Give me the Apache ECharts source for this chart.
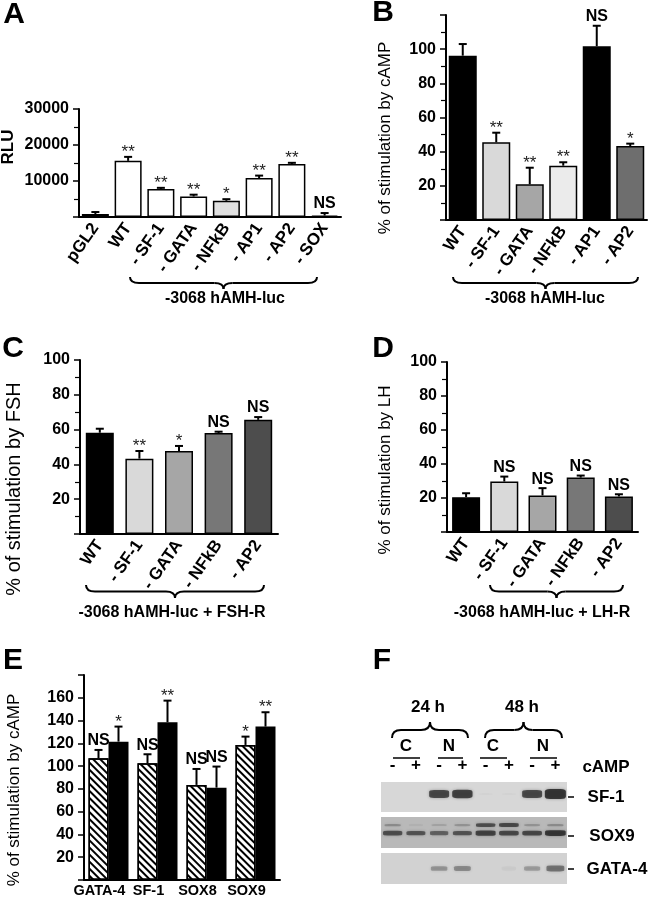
<!DOCTYPE html>
<html>
<head>
<meta charset="utf-8">
<script src="https://cdn.jsdelivr.net/npm/echarts@6/dist/echarts.min.js"></script>
<style>
html,body{margin:0;padding:0;background:#fff;}
#main{width:654px;height:900px;}
</style>
</head>
<body>
<div id="main"></div>
<script>
// A - RLU
var catA = ['pGL2', 'WT', '- SF-1', '- GATA', '- NFkB', '- AP1', '- AP2', '- SOX'];
var valA = [830, 15600, 7800, 5700, 4500, 10800, 14700, 400];
var errA = [550, 1100, 300, 500, 450, 700, 350, 700];
var sigA = ['', '**', '**', '**', '*', '**', '**', 'NS'];
// B - cAMP
var catB = ['WT', '- SF-1', '- GATA', '- NFkB', '- AP1', '- AP2'];
var valB = [96.2, 45.5, 20.9, 31.8, 101.7, 43.3];
var errB = [6.8, 5.6, 9.7, 2.0, 12.0, 1.4];
var sigB = ['', '**', '**', '**', 'NS', '*'];
// C - FSH
var catC = ['WT', '- SF-1', '- GATA', '- NFkB', '- AP2'];
var valC = [58.2, 43.3, 47.7, 58.0, 65.6];
var errC = [2.3, 4.4, 2.9, 0.8, 1.6];
var sigC = ['', '**', '*', 'NS', 'NS'];
// D - LH
var catD = ['WT', '- SF-1', '- GATA', '- NFkB', '- AP2'];
var valD = [20.5, 29.7, 21.5, 32.0, 20.9];
var errD = [2.3, 2.9, 4.3, 1.2, 1.3];
var sigD = ['', 'NS', 'NS', 'NS', 'NS'];
// E - two bars per factor
var catE = ['GATA-4', 'SF-1', 'SOX8', 'SOX9'];
var valE1 = [106.9, 102.5, 83.5, 118.6];
var errE1 = [7.3, 7.9, 14.0, 7.3];
var sigE1 = ['NS', 'NS', 'NS', '*'];
var valE2 = [121.5, 138.5, 81.1, 134.7];
var errE2 = [13.2, 19.0, 18.5, 12.6];
var sigE2 = ['*', '**', 'NS', '**'];
// F - western blot, band intensity per lane (0..1)
var lanes = ['-', '+', '-', '+', '-', '+', '-', '+'];
var bandSF1 = [0, 0, 0.85, 0.9, 0.02, 0.02, 0.85, 1.0];
var bandSOX9low = [0.75, 0.7, 0.6, 0.7, 0.85, 0.8, 0.8, 0.95];
var bandSOX9up = [0.3, 0.05, 0.15, 0.25, 0.75, 0.8, 0.25, 0.3];
var bandGATA4 = [0, 0, 0.35, 0.4, 0, 0.04, 0.3, 0.55];
// relative band mobility in each strip (0 = top of strip)
var rowSF1 = 0.4, rowSOX9low = 0.52, rowSOX9up = 0.26, rowGATA4 = 0.5;

var colA = ['#fff', '#fff', '#fff', '#fff', '#e0e0e0', '#fff', '#fff', '#fff'];
var colB = ['#000', '#d9d9d9', '#a6a6a6', '#ebebeb', '#000', '#6e6e6e'];
var colCD = ['#000', '#d9d9d9', '#a6a6a6', '#777', '#4d4d4d'];
var FONT = '"Liberation Sans", Arial, sans-serif';

var myChart = echarts.init(document.getElementById('main'));

function yAx(gi, max, interval, minor, hideMax) {
  return {
    type: 'value', gridIndex: gi, min: 0, max: max, interval: interval,
    axisLine: {show: true, lineStyle: {color: '#000', width: 2}},
    axisTick: {show: true, inside: false, length: 6, lineStyle: {color: '#000', width: 1.5}},
    minorTick: {show: minor > 1, splitNumber: minor, length: 5, lineStyle: {color: '#000', width: 1.2}},
    splitLine: {show: false},
    axisLabel: {
      color: '#000', fontWeight: 'bold', fontSize: 16, fontFamily: FONT, margin: 10,
      formatter: function (v) { return (v === 0 || (hideMax && v === max)) ? '' : v; }
    }
  };
}
function xAx(gi, cats, rotate) {
  return {
    type: 'category', gridIndex: gi, data: cats,
    axisLine: {show: true, lineStyle: {color: '#000', width: 2}},
    axisTick: {show: false},
    axisLabel: {
      show: rotate > 0, interval: 0, rotate: rotate, color: '#000', fontWeight: 'bold', fontSize: 17,
      fontFamily: FONT, margin: 8
    }
  };
}
function barS(gi, vals, colors, width) {
  return {
    type: 'bar', xAxisIndex: gi, yAxisIndex: gi, data: vals, barWidth: width,
    itemStyle: {
      borderColor: '#000', borderWidth: 1.5,
      color: function (p) { return colors[p.dataIndex]; }
    }
  };
}
// error bar (upper side only) + significance mark
function errS(gi, vals, errs, sigs, offset) {
  return {
    type: 'custom', xAxisIndex: gi, yAxisIndex: gi, z: 5,
    data: vals.map(function (v, i) { return [i, v, v + errs[i]]; }),
    renderItem: function (params, api) {
      var b = api.coord([api.value(0), api.value(1)]);
      var t = api.coord([api.value(0), api.value(2)]);
      var x = b[0] + offset;
      var s = sigs[params.dataIndex];
      var star = s.indexOf('*') >= 0;
      return {
        type: 'group', children: [
          {type: 'line', shape: {x1: x, y1: b[1], x2: x, y2: t[1]}, style: {stroke: '#000', lineWidth: 2}},
          {type: 'line', shape: {x1: x - 4, y1: t[1], x2: x + 4, y2: t[1]}, style: {stroke: '#000', lineWidth: 2}},
          {type: 'text', x: x, y: t[1] + (star ? 4 : -1), style: {
            text: s, fill: star ? '#222' : '#000', textAlign: 'center', textVerticalAlign: 'bottom',
            font: (star ? 'normal 17px ' : 'bold 16px ') + FONT
          }}
        ]
      };
    }
  };
}
// horizontal category labels placed from the axis scale
function catLabS(gi, cats, dx) {
  return {
    type: 'custom', xAxisIndex: gi, yAxisIndex: gi, silent: true,
    data: cats.map(function (c, i) { return [i, 0]; }),
    renderItem: function (params, api) {
      var p = api.coord([api.value(0), api.value(1)]);
      return {type: 'text', x: p[0] + dx, y: p[1] + 3, style: {
        text: cats[params.dataIndex], fill: '#000', textAlign: 'center', textVerticalAlign: 'top',
        font: 'bold 14.5px ' + FONT
      }};
    }
  };
}
// band height grows with intensity: h0 + hk * intensity^2
function blotS(gi, row, ints, h0, hk) {
  return {
    type: 'scatter', xAxisIndex: gi, yAxisIndex: gi, symbol: 'roundRect',
    data: ints.map(function (v, i) { return [i, row, v]; }),
    symbolSize: function (d) { return [14 + 7 * d[2], h0 + hk * d[2] * d[2]]; },
    itemStyle: {
      color: function (p) { return 'rgba(25,25,25,' + p.data[2] + ')'; },
      shadowBlur: 3, shadowColor: 'rgba(40,40,40,0.5)'
    },
    silent: true
  };
}
function blotX(gi, top) {
  return {
    type: 'category', gridIndex: gi, data: lanes, position: 'top',
    axisLine: {show: false}, axisTick: {show: false},
    axisLabel: {show: top, color: '#000', fontWeight: 'bold', fontSize: 17, fontFamily: FONT, margin: 8}
  };
}
function blotY(gi) {
  return {type: 'value', gridIndex: gi, min: 0, max: 1, inverse: true, show: false};
}
function ln(x1, y1, x2, y2, w) {
  return {type: 'line', shape: {x1: x1, y1: y1, x2: x2, y2: y2}, style: {stroke: '#000', lineWidth: w || 1.5}};
}
function qc(x1, y1, cx, cy, x2, y2) {
  return {type: 'bezierCurve', shape: {x1: x1, y1: y1, cpx1: cx, cpy1: cy, x2: x2, y2: y2},
    style: {stroke: '#000', lineWidth: 2, fill: null}};
}
// curly brace, ends at y, tip at y + d
function brace(x1, x2, y, d) {
  var m = (x1 + x2) / 2, h = y + d / 2, r = 9;
  return {type: 'group', children: [
    qc(x1, y, x1, h, x1 + r, h), ln(x1 + r, h, m - r, h, 2),
    qc(m - r, h, m, h, m, y + d), qc(m, y + d, m, h, m + r, h),
    ln(m + r, h, x2 - r, h, 2), qc(x2 - r, h, x2, h, x2, y)
  ]};
}
function txt(x, y, s, font, rot) {
  return {type: 'text', x: x, y: y, rotation: rot || 0, style: {
    text: s, font: font + ' ' + FONT, fill: '#000', textAlign: 'center', textVerticalAlign: 'middle'}};
}

var R = Math.PI / 2;
option = {
  animation: false,
  grid: [
    {left: 79, top: 109, width: 262, height: 108},
    {left: 446, top: 15, width: 201, height: 205},
    {left: 80, top: 360, width: 198, height: 174},
    {left: 447, top: 362, width: 191, height: 170},
    {left: 84, top: 675, width: 196, height: 205},
    {left: 381, top: 782, width: 186, height: 30, show: true, backgroundColor: '#d7d7d7', borderWidth: 0},
    {left: 381, top: 817, width: 186, height: 31, show: true, backgroundColor: '#b9b9b9', borderWidth: 0},
    {left: 381, top: 853, width: 186, height: 31, show: true, backgroundColor: '#d2d2d2', borderWidth: 0}
  ],
  xAxis: [
    xAx(0, catA, 55), xAx(1, catB, 55), xAx(2, catC, 55), xAx(3, catD, 55), xAx(4, catE, 0),
    blotX(5, true), blotX(6, false), blotX(7, false)
  ],
  yAxis: [
    yAx(0, 30000, 10000, 2, false), yAx(1, 120, 20, 2, true), yAx(2, 100, 20, 2, false),
    yAx(3, 100, 20, 2, false), yAx(4, 180, 20, 1, true),
    blotY(5), blotY(6), blotY(7)
  ],
  series: [
    barS(0, valA, colA, 27), errS(0, valA, errA, sigA, 0),
    barS(1, valB, colB, 28), errS(1, valB, errB, sigB, 0),
    barS(2, valC, colCD, 28), errS(2, valC, errC, sigC, 0),
    barS(3, valD, colCD, 28), errS(3, valD, errD, sigD, 0),
    {
      type: 'bar', xAxisIndex: 4, yAxisIndex: 4, data: valE1, barWidth: 20, barGap: '0%',
      itemStyle: {color: '#fff', borderColor: '#000', borderWidth: 1.5,
        decal: {symbol: 'rect', symbolSize: 1, color: '#000', dashArrayX: [1, 0], dashArrayY: [2, 3], rotation: Math.PI / 4}}
    },
    {
      type: 'bar', xAxisIndex: 4, yAxisIndex: 4, data: valE2, barWidth: 20, barGap: '0%',
      itemStyle: {color: '#000', borderColor: '#000', borderWidth: 1.5}
    },
    errS(4, valE1, errE1, sigE1, -10), errS(4, valE2, errE2, sigE2, 10),
    catLabS(4, catE, -9),
    blotS(5, rowSF1, bandSF1, 2, 8),
    blotS(6, rowSOX9up, bandSOX9up, 2, 3), blotS(6, rowSOX9low, bandSOX9low, 3, 3),
    blotS(7, rowGATA4, bandGATA4, 4, 6)
  ],
  graphic: [
    txt(14, 15, 'A', 'bold 30px'), txt(383, 13, 'B', 'bold 30px'),
    txt(13, 349, 'C', 'bold 30px'), txt(383, 349, 'D', 'bold 30px'),
    txt(13, 661, 'E', 'bold 30px'), txt(382, 661, 'F', 'bold 30px'),
    txt(8, 147, 'RLU', 'bold 17px', R),
    txt(385, 138, '% of stimulation by cAMP', 'normal 17px', R),
    txt(14, 489, '% of stimulation by FSH', 'normal 20px', R),
    txt(385, 470, '% of stimulation by LH', 'normal 17px', R),
    txt(14, 790, '% of stimulation by cAMP', 'normal 17px', R),
    brace(130, 317, 277, 12), txt(225, 299, '-3068 hAMH-luc', 'bold 16px'),
    brace(453, 638, 277, 12), txt(545, 299, '-3068 hAMH-luc', 'bold 16px'),
    brace(86, 264, 585, 13), txt(172, 613, '-3068 hAMH-luc + FSH-R', 'bold 16px'),
    brace(490, 623, 585, 13), txt(542, 613, '-3068 hAMH-luc + LH-R', 'bold 16px'),
    // F header
    txt(428, 707, '24 h', 'bold 17px'), txt(522, 707, '48 h', 'bold 17px'),
    brace(392, 468, 738, -16), brace(485, 562, 738, -16),
    txt(406, 746, 'C', 'bold 17px'), txt(449, 746, 'N', 'bold 17px'),
    txt(493, 746, 'C', 'bold 17px'), txt(543, 746, 'N', 'bold 17px'),
    ln(393, 758, 420, 758), ln(438, 758, 463, 758), ln(480, 758, 507, 758), ln(530, 758, 557, 758),
    txt(606, 767, 'cAMP', 'bold 17px'),
    ln(568, 797, 574, 797), ln(568, 836, 574, 836), ln(568, 869, 574, 869),
    txt(606, 797, 'SF-1', 'bold 17px'), txt(612, 836, 'SOX9', 'bold 17px'), txt(617, 869, 'GATA-4', 'bold 17px')
  ]
};
myChart.setOption(option);
window.addEventListener('resize', function () {
  myChart.resize();
});
</script>
</body>
</html>
